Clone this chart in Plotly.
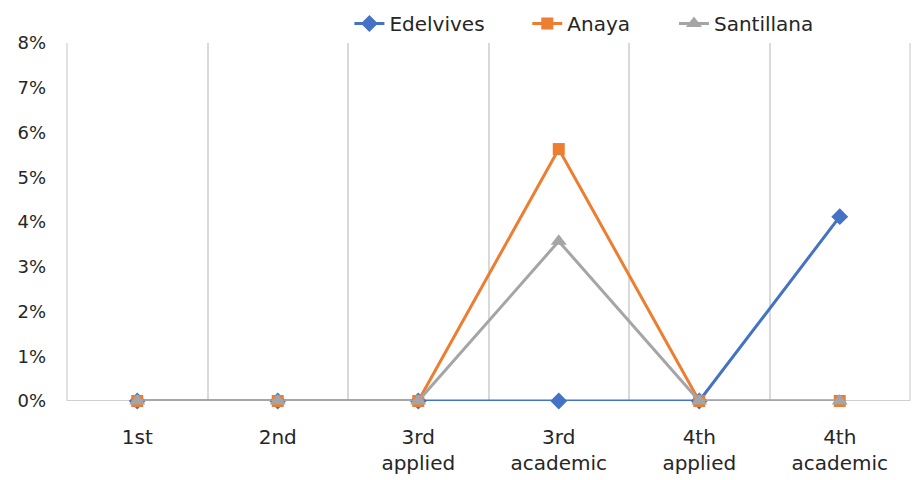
import plotly.graph_objects as go

# Share of content by publisher and school year
categories = ["1st", "2nd", "3rd<br>applied", "3rd<br>academic", "4th<br>applied", "4th<br>academic"]
edelvives = [0.0, 0.0, 0.0, 0.0, 0.0, 4.12]
anaya = [0.0, 0.0, 0.0, 5.63, 0.0, 0.0]
santillana = [0.0, 0.0, 0.0, 3.57, 0.0, 0.0]
y_ticks = [0, 1, 2, 3, 4, 5, 6, 7, 8]

FONT = "DejaVu Sans, sans-serif"
TEXT = "#262626"
GRID = "#D9D9D9"

fig = go.Figure()
fig.add_trace(go.Scatter(
    x=categories, y=edelvives, name="Edelvives", mode="lines+markers",
    line=dict(color="#4472C4", width=3),
    marker=dict(symbol="diamond", size=13, color="#4472C4"),
    cliponaxis=False, legend="legend",
))
fig.add_trace(go.Scatter(
    x=categories, y=anaya, name="Anaya", mode="lines+markers",
    line=dict(color="#ED7D31", width=3),
    marker=dict(symbol="square", size=12, color="#ED7D31"),
    cliponaxis=False, legend="legend2",
))
fig.add_trace(go.Scatter(
    x=categories, y=santillana, name="Santillana", mode="lines+markers",
    line=dict(color="#A5A5A5", width=3),
    marker=dict(symbol="triangle-up", size=14, color="#A5A5A5"),
    cliponaxis=False, legend="legend3",
))

legend_style = dict(
    orientation="h", y=1.0, xanchor="left", yanchor="bottom",
    font=dict(family=FONT, size=20, color=TEXT), bgcolor="rgba(0,0,0,0)",
)

fig.update_layout(
    width=914, height=480,
    margin=dict(l=67, r=4, t=38, b=79),
    paper_bgcolor="white", plot_bgcolor="white",
    font=dict(family=FONT, size=17, color=TEXT),
    showlegend=True,
    legend=dict(x=0.335, **legend_style),
    legend2=dict(x=0.546, **legend_style),
    legend3=dict(x=0.720, **legend_style),
    xaxis=dict(
        type="category", tickson="boundaries", range=[-0.5, 5.5],
        showgrid=True, gridcolor=GRID, gridwidth=1.5,
        showline=False, zeroline=False, ticks="",
        tickfont=dict(family=FONT, size=20, color=TEXT),
        ticklabelstandoff=22,
    ),
    yaxis=dict(
        range=[0, 8], tickvals=y_ticks,
        ticktext=[f"{v}%" for v in y_ticks],
        showgrid=False, zeroline=False, showline=False, ticks="",
        tickfont=dict(family=FONT, size=18, color=TEXT),
        ticklabelstandoff=20,
    ),
)

# outer category boundaries of the plot area
for edge in (0, 1):
    fig.add_shape(type="line", xref="paper", yref="paper", x0=edge, x1=edge, y0=0, y1=1,
                  line=dict(color=GRID, width=1.5), layer="below")

# light baseline along 0%
fig.add_shape(type="line", xref="paper", yref="y", x0=0, x1=1, y0=0, y1=0,
              line=dict(color="#D0D0D0", width=2), layer="below")

fig.write_html("out.html")
